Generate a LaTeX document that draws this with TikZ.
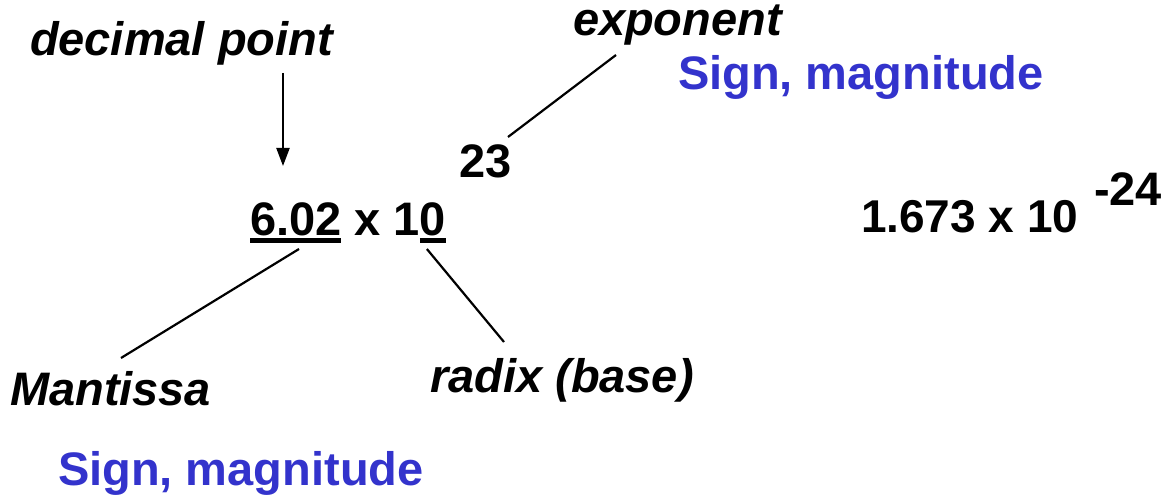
\documentclass[tikz,border=0pt]{standalone}
\usepackage{fontspec}
\setmainfont{Liberation Sans}
\usetikzlibrary{arrows.meta}
\definecolor{signblue}{RGB}{51,51,204}
\begin{document}
\begin{tikzpicture}[x=1pt,y=-1pt,
  txt/.style={inner sep=0pt,outer sep=0pt,anchor=base west,font=\fontsize{47}{56}\selectfont\bfseries},
  lbl/.style={txt,font=\fontsize{47}{56}\selectfont\bfseries\itshape},
  numtwo/.style={inner sep=0pt,outer sep=0pt,anchor=base west,font=\fontsize{46}{55}\selectfont\bfseries},
  blue/.style={txt,text=signblue},
  conn/.style={line width=2.2pt,black},
  uline/.style={line width=4.5pt,black}]
\useasboundingbox (0,0) rectangle (1164,497);
% labels
\node[lbl] (dp) at (30,56) {decimal point};
\node[lbl] (expo) at (573,36) {exponent};
\node[blue] (sm1) at (678,90) {Sign, magnitude};
\node[txt] (e23) at (459,178) {23};
% main number
\node[txt] (mant) at (250,235) {6.02};
\node[txt] (x1) at (mant.base east) {\ x 1};
\node[txt] (radix0) at (x1.base east) {0};
% second number
\node[numtwo] (num2) at (861,232) {1.673 x 10};
\node[txt] (e24) at (1094,205) {-24};
% bottom labels
\node[lbl] (mlbl) at (10,405) {Mantissa};
\node[lbl] (rlbl) at (430,392) {radix (base)};
\node[blue] (sm2) at (58,485) {Sign, magnitude};
% underlines
\draw[uline] ([shift={(0,5.5)}]mant.base west) -- ([shift={(0,5.5)}]mant.base east);
\draw[uline] ([shift={(0,5.5)}]radix0.base west) -- ([shift={(0,5.5)}]radix0.base east);
% connectors
\draw[conn,-{Triangle[length=18pt,width=13pt]}] ([shift={(253,17)}]dp.base west) -- ([shift={(33,-69)}]mant.base west);
\draw[conn] ([shift={(43,19)}]expo.base west) -- ([shift={(49,-41)}]e23.base west);
\draw[conn] ([shift={(49,14)}]mant.base west) -- ([shift={(111,-47)}]mlbl.base west);
\draw[conn] ([shift={(7,14)}]radix0.base west) -- ([shift={(74,-50)}]rlbl.base west);
\end{tikzpicture}
\end{document}
